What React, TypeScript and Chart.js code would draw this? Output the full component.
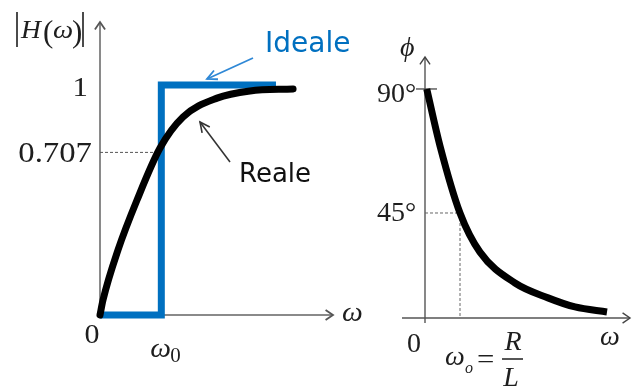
import React, { useEffect, useRef } from "react";
import { Chart, registerables } from "chart.js";

Chart.register(...registerables);

// ---- Magnitude panel data ----
const idealOmega = [0, 1, 1, 2.87];
const idealGain = [0, 0, 1, 1];
const realOmega = [0, 0.049, 0.294, 0.604, 0.979, 1.354, 1.909, 2.447, 3.149];
const realGain = [0, 0.065, 0.283, 0.5, 0.726, 0.861, 0.943, 0.974, 0.983];
const magTicks = [0.707, 1];
const magTickLabels = ["0.707", "1"];
const cutoffOmega = 1;

// ---- Phase panel data ----
const phaseOmega = [0.05, 0.43, 1.0, 1.571, 2.571, 3.514, 4.286, 5.2];
const phaseDeg = [90, 69.3, 45, 30.8, 19.6, 14.2, 10.9, 9.1];
const phaseTicks = [45, 90];
const phaseTickLabels = ["45°", "90°"];

const SERIF = '"Liberation Serif", "DejaVu Serif", serif';
const SANS = '"DejaVu Sans", "Noto Sans", sans-serif';
const BLUE = "#0070C0";

function txt(ctx: any, s: string, x: number, y: number, font: string, color: string, align: string = "left", sx = 1) {
  ctx.save();
  ctx.font = font;
  ctx.fillStyle = color;
  ctx.textBaseline = "alphabetic";
  ctx.textAlign = align;
  ctx.translate(x, y);
  ctx.scale(sx, 1);
  ctx.fillText(s, 0, 0);
  ctx.restore();
}

function line(ctx: any, x1: number, y1: number, x2: number, y2: number, color: string, w: number, dash: number[] = []) {
  ctx.save();
  ctx.strokeStyle = color;
  ctx.lineWidth = w;
  ctx.setLineDash(dash);
  ctx.beginPath();
  ctx.moveTo(x1, y1);
  ctx.lineTo(x2, y2);
  ctx.stroke();
  ctx.restore();
}

function head(ctx: any, tx: number, ty: number, fromX: number, fromY: number, len: number, spread: number, color: string, w: number) {
  const a = Math.atan2(ty - fromY, tx - fromX);
  ctx.save();
  ctx.strokeStyle = color;
  ctx.lineWidth = w;
  ctx.lineJoin = "miter";
  ctx.beginPath();
  ctx.moveTo(tx - len * Math.cos(a - spread), ty - len * Math.sin(a - spread));
  ctx.lineTo(tx, ty);
  ctx.lineTo(tx - len * Math.cos(a + spread), ty - len * Math.sin(a + spread));
  ctx.stroke();
  ctx.restore();
}

const magDecor = {
  id: "magDecor",
  beforeDatasetsDraw(chart: any) {
    const { ctx, chartArea: ca, scales } = chart;
    const xs = scales.x, ys = scales.y;
    const x0 = xs.getPixelForValue(0);
    const y0 = ys.getPixelForValue(0);
    const axisC = "#8a8a8a";
    line(ctx, x0, y0 + 1, x0, ca.top, axisC, 2);
    head(ctx, x0, ca.top, x0, ca.top + 10, 9, 0.6, "#555", 1.8);
    line(ctx, x0, y0, ca.right, y0, axisC, 2);
    head(ctx, ca.right, y0, ca.right - 10, y0, 9, 0.6, "#555", 1.8);
    const yq = ys.getPixelForValue(magTicks[0]);
    line(ctx, x0, yq, xs.getPixelForValue(cutoffOmega), yq, "#555", 1, [3, 2]);
  },
  afterDatasetsDraw(chart: any) {
    const { ctx, scales } = chart;
    const xs = scales.x, ys = scales.y;
    const x0 = xs.getPixelForValue(0);
    const y0 = ys.getPixelForValue(0);
    const dark = "#1e1e1e";
    txt(ctx, magTickLabels[0], x0 - 8, ys.getPixelForValue(magTicks[0]) + 10, `29px ${SERIF}`, dark, "right", 1.13);
    txt(ctx, magTickLabels[1], x0 - 12, ys.getPixelForValue(magTicks[1]) + 11, `28px ${SERIF}`, dark, "right", 1.1);
    // |H(w)|
    line(ctx, 17, 12, 17, 47, dark, 1.6);
    line(ctx, 83, 12, 83, 47, dark, 1.6);
    txt(ctx, "H", 21, 38, `italic 25px ${SERIF}`, dark, "left", 1.1);
    txt(ctx, "(", 43, 42, `31px ${SERIF}`, dark, "left", 1.0);
    txt(ctx, "ω", 53, 38, `italic 26px ${SERIF}`, dark, "left", 1.1);
    txt(ctx, ")", 72, 42, `31px ${SERIF}`, dark, "left", 1.0);
    // axis labels
    txt(ctx, "0", x0 - 8, y0 + 28, `28px ${SERIF}`, dark, "center", 1.07);
    const xc = xs.getPixelForValue(cutoffOmega);
    txt(ctx, "ω", xc - 11, y0 + 42, `italic 28px ${SERIF}`, dark, "left", 1.05);
    txt(ctx, "0", xc + 9, y0 + 47, `20px ${SERIF}`, dark, "left", 1.05);
    txt(ctx, "ω", 342, 321, `italic 28px ${SERIF}`, dark, "left", 1.05);
    // annotations
    txt(ctx, "Ideale", 265, 52, `28px ${SANS}`, BLUE, "left", 1);
    line(ctx, 253, 58, 207, 79, "#2F88D6", 1.8);
    head(ctx, 207, 79, 253, 58, 11, 0.45, "#2F88D6", 1.8);
    txt(ctx, "Reale", 239, 182, `26px ${SANS}`, "#111", "left", 1);
    line(ctx, 230, 162, 200, 122, "#333", 1.6);
    head(ctx, 200, 122, 230, 162, 11, 0.45, "#333", 1.6);
  },
};

const OFFSET = 370;

const phaseDecor = {
  id: "phaseDecor",
  beforeDatasetsDraw(chart: any) {
    const { ctx, chartArea: ca, scales } = chart;
    const xs = scales.x, ys = scales.y;
    const x0 = xs.getPixelForValue(0);
    const yb = ca.bottom;
    const axisC = "#555";
    line(ctx, x0, yb + 5, x0, ca.top, axisC, 1.4);
    head(ctx, x0, ca.top, x0, ca.top + 10, 9, 0.6, "#444", 1.4);
    line(ctx, 402 - OFFSET, yb, ca.right, yb, axisC, 1.4);
    head(ctx, ca.right, yb, ca.right - 10, yb, 9, 0.6, "#444", 1.4);
    const y90 = ys.getPixelForValue(phaseTicks[1]);
    line(ctx, x0 - 9, y90, x0 + 12, y90, axisC, 1.4);
    const y45 = ys.getPixelForValue(phaseTicks[0]);
    const xc = xs.getPixelForValue(cutoffOmega);
    line(ctx, x0, y45, xc, y45, "#666", 1, [3, 2]);
    line(ctx, xc, y45, xc, yb, "#666", 1, [3, 2]);
  },
  afterDatasetsDraw(chart: any) {
    const { ctx, chartArea: ca, scales } = chart;
    const xs = scales.x, ys = scales.y;
    const x0 = xs.getPixelForValue(0);
    const yb = ca.bottom;
    const dark = "#1e1e1e";
    ctx.save();
    ctx.translate(-OFFSET, 0);
    const X0 = x0 + OFFSET;
    txt(ctx, "ϕ", 400, 56, `italic 28px ${SERIF}`, dark, "left", 1);
    txt(ctx, phaseTickLabels[1], X0 - 48, ys.getPixelForValue(phaseTicks[1]) + 13, `28px ${SERIF}`, dark, "left", 1);
    txt(ctx, phaseTickLabels[0], X0 - 48, ys.getPixelForValue(phaseTicks[0]) + 8, `28px ${SERIF}`, dark, "left", 1);
    txt(ctx, "0", X0 - 11, yb + 34, `28px ${SERIF}`, dark, "center", 1);
    txt(ctx, "ω", 600, 345, `italic 28px ${SERIF}`, dark, "left", 1);
    // ω_o = R / L
    txt(ctx, "ω", 445, 365, `italic 28px ${SERIF}`, dark, "left", 1);
    txt(ctx, "o", 465, 373, `italic 16px ${SERIF}`, dark, "left", 1);
    txt(ctx, "=", 477, 368, `28px ${SERIF}`, dark, "left", 1.1);
    line(ctx, 502, 359, 523, 359, dark, 1.5);
    txt(ctx, "R", 513, 350, `italic 28px ${SERIF}`, dark, "center", 1);
    txt(ctx, "L", 511, 386, `italic 28px ${SERIF}`, dark, "center", 1);
    ctx.restore();
  },
};

function useChart(ref: any, config: any) {
  useEffect(() => {
    if (!ref.current) return;
    const c = new Chart(ref.current, config);
    return () => c.destroy();
  }, []);
}

export default function App() {
  const magRef = useRef<HTMLCanvasElement | null>(null);
  const phaseRef = useRef<HTMLCanvasElement | null>(null);

  useChart(magRef, {
    type: "line",
    data: {
      datasets: [
        {
          label: "Reale",
          data: realOmega.map((x, i) => ({ x, y: realGain[i] })),
          borderColor: "#000",
          borderWidth: 7,
          pointRadius: 0,
          cubicInterpolationMode: "monotone",
          borderCapStyle: "round",
          clip: false,
          order: 0,
        },
        {
          label: "Ideale",
          data: idealOmega.map((x, i) => ({ x, y: idealGain[i] })),
          borderColor: BLUE,
          borderWidth: 7,
          pointRadius: 0,
          tension: 0,
          borderJoinStyle: "miter",
          borderCapStyle: "butt",
          clip: false,
          order: 1,
        },
      ],
    },
    options: {
      animation: false,
      responsive: false,
      maintainAspectRatio: false,
      layout: { padding: { left: 100, right: 37, top: 22, bottom: 73 } },
      scales: {
        x: { type: "linear", min: 0, max: 3.8, display: false },
        y: { type: "linear", min: 0, max: 1.274, display: false },
      },
      plugins: { legend: { display: false }, tooltip: { enabled: false } },
      events: [],
    },
    plugins: [magDecor],
  });

  useChart(phaseRef, {
    type: "line",
    data: {
      datasets: [
        {
          label: "ϕ",
          data: phaseOmega.map((x, i) => ({ x, y: phaseDeg[i] })),
          borderColor: "#000",
          borderWidth: 7,
          pointRadius: 0,
          cubicInterpolationMode: "monotone",
          borderCapStyle: "butt",
          clip: false,
        },
      ],
    },
    options: {
      animation: false,
      responsive: false,
      maintainAspectRatio: false,
      layout: { padding: { left: 55, right: 8, top: 57, bottom: 70 } },
      scales: {
        x: { type: "linear", min: 0, max: 5.857, display: false },
        y: { type: "linear", min: 6.9, max: 101.6, display: false },
      },
      plugins: { legend: { display: false }, tooltip: { enabled: false } },
      events: [],
    },
    plugins: [phaseDecor],
  });

  return (
    <div style={{ position: "absolute", left: 0, top: 0, width: 638, height: 388, background: "#fff" }}>
      <canvas ref={magRef} width={370} height={388} style={{ position: "absolute", left: 0, top: 0, width: 370, height: 388 }} />
      <canvas ref={phaseRef} width={268} height={388} style={{ position: "absolute", left: OFFSET, top: 0, width: 268, height: 388 }} />
    </div>
  );
}
